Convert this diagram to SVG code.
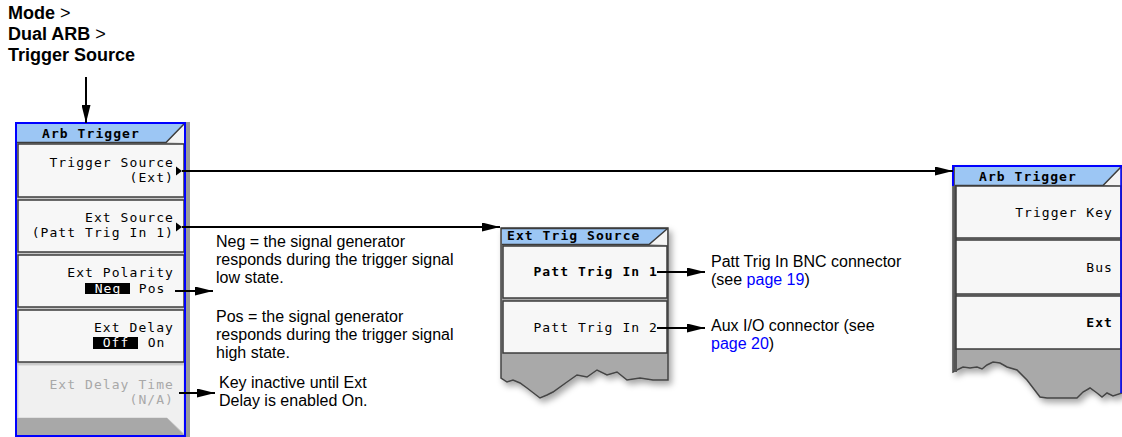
<svg xmlns="http://www.w3.org/2000/svg" width="1122" height="437" viewBox="0 0 1122 437">
<style>
.mono{font-family:"DejaVu Sans Mono","Liberation Mono",monospace;font-size:13px;letter-spacing:1.07px;fill:#000}
.b{font-weight:bold}
.dis{fill:#a8a8a8}
.inv{fill:#fff}
.ann{font-family:"Liberation Sans",Arial,sans-serif;font-size:16px;fill:#000}
.link{fill:#0000ff}
.crumb{font-family:"Liberation Sans",Arial,sans-serif;font-size:18px;font-weight:bold;fill:#000}
.conn{stroke:#000;stroke-width:2;fill:none}
.btn{fill:#f7f7f7;stroke:#3c3c3c;stroke-width:1.5}
.title{fill:#9cc6f4}
.light{fill:#f4f4f4}
.edge{stroke:#3c3c3c;stroke-width:1.5;fill:none}
.blue{stroke:#0000ff;stroke-width:2;fill:none}
.torn{fill:#a9a9a9;stroke:#444;stroke-width:1.5}
</style>
<defs>
<marker id="ah" viewBox="0 0 18 9" refX="18" refY="4.5" markerWidth="18" markerHeight="9" markerUnits="userSpaceOnUse" orient="auto"><path d="M0,0 L18,4.5 L0,9 Z" fill="#000"/></marker>
<filter id="sh" x="-10%" y="-10%" width="130%" height="130%"><feDropShadow dx="3" dy="4" stdDeviation="3" flood-color="#000" flood-opacity="0.35"/></filter>
</defs>

<g id="breadcrumb">
<text class="crumb" x="8" y="18.5">Mode<tspan font-weight="normal"> &gt;</tspan></text>
<text class="crumb" x="8" y="39.5">Dual ARB<tspan font-weight="normal"> &gt;</tspan></text>
<text class="crumb" x="8" y="61">Trigger Source</text>
</g>

<g id="left-panel">
<rect x="16" y="123" width="169" height="313" fill="#c8c8c8"/>
<rect x="186" y="122" width="4" height="315" fill="#9a9a9a"/>
<polygon class="light" points="166,142 184,124 184,143"/>
<polygon class="title" points="17,124 184,124 166,142 17,142"/>
<polyline class="edge" points="17,142.5 166,142.5 184,124"/>
<text class="mono b" x="42" y="138">Arb Trigger</text>
<rect class="btn" x="18" y="144" width="166" height="53"/>
<text class="mono" x="174" y="167" text-anchor="end">Trigger Source</text>
<text class="mono" x="174" y="182" text-anchor="end">(Ext)</text>
<rect class="btn" x="18" y="200" width="166" height="52"/>
<text class="mono" x="174" y="222" text-anchor="end">Ext Source</text>
<text class="mono" x="174" y="237" text-anchor="end">(Patt Trig In 1)</text>
<rect class="btn" x="18" y="255" width="166" height="52"/>
<text class="mono" x="174" y="277" text-anchor="end">Ext Polarity</text>
<rect x="85" y="283" width="45" height="11" fill="#000"/>
<text class="mono inv" x="108" y="293" text-anchor="middle">Neg</text>
<text class="mono" x="165.5" y="293" text-anchor="end">Pos</text>
<rect class="btn" x="18" y="310" width="166" height="52"/>
<text class="mono" x="174" y="332" text-anchor="end">Ext Delay</text>
<rect x="93" y="337" width="45" height="12" fill="#000"/>
<text class="mono inv" x="116" y="347" text-anchor="middle">Off</text>
<text class="mono" x="165.5" y="347" text-anchor="end">On</text>
<polygon points="18,365 184,365 184,434 167,418 18,418" fill="#f0f0f0" stroke="#d0d0d0" stroke-width="1"/>
<polygon points="17,418 167,418 184,435 17,435" fill="#a8a8a8"/>
<text class="mono dis" x="174" y="389" text-anchor="end">Ext Delay Time</text>
<text class="mono dis" x="174" y="404" text-anchor="end">(N/A)</text>
<rect class="blue" x="16" y="123" width="169" height="313"/>
</g>

<g id="ext-trig-source-panel">
<path class="torn" filter="url(#sh)" d="M501,228 H668 V380 L653,380 L640,378 L627,380 L617,372 L607,375 L597,370 L587,377 L577,375 L567,382 L553,392 L547,395 L540,398 L527,388 L520,383 L513,380 L507,382 L501,378 Z"/>
<polygon class="light" points="649,244 667,229 667,245"/>
<polygon class="title" points="502,229 667,229 649,244 502,244"/>
<polyline class="edge" points="502,244.5 649,244.5 667,229"/>
<line x1="501" y1="228.5" x2="668" y2="228.5" stroke="#3c3c3c" stroke-width="1.5"/>
<text class="mono b" x="507" y="240">Ext Trig Source</text>
<rect class="btn" x="503" y="246" width="164" height="52"/>
<text class="mono b" x="658" y="276" text-anchor="end">Patt Trig In 1</text>
<rect class="btn" x="503" y="301" width="164" height="52"/>
<text class="mono" x="658" y="332" text-anchor="end">Patt Trig In 2</text>
</g>

<g id="arb-trigger-panel-right">
<path class="torn" filter="url(#sh)" d="M953,166 H1122 V393 L1113,396 L1107,393 L1102,397 L1097,393 L1090,388 L1083,392 L1077,398 L1047,398 L1040,397 L1027,380 L1017,370 L1007,367 L1000,363 L993,362 L987,365 L982,369 L977,367 L970,368 L963,367 L957,370 L953,372 Z"/>
<rect x="954" y="167" width="3" height="205" fill="#555"/>
<polygon class="light" points="1103,185 1120,168 1121,168 1121,186"/>
<polygon class="title" points="955,167 1120,167 1103,185 955,185"/>
<polyline class="edge" points="955,185.5 1103,185.5 1121,167"/>
<text class="mono b" x="979" y="181">Arb Trigger</text>
<rect class="btn" x="956" y="186" width="165" height="52"/>
<text class="mono" x="1113" y="217" text-anchor="end">Trigger Key</text>
<rect class="btn" x="956" y="240" width="165" height="54"/>
<text class="mono" x="1113" y="272" text-anchor="end">Bus</text>
<rect class="btn" x="956" y="296" width="165" height="53"/>
<text class="mono b" x="1113" y="327" text-anchor="end">Ext</text>
<polyline class="blue" points="953,186 953,166 1123,166"/>
<line x1="1121" y1="166" x2="1121" y2="393" stroke="#0000ff" stroke-width="1.5"/>
</g>

<g id="annotations">
<text class="ann" x="216" y="247">Neg = the signal generator</text>
<text class="ann" x="216" y="265">responds during the trigger signal</text>
<text class="ann" x="216" y="283">low state.</text>
<text class="ann" x="216" y="322">Pos = the signal generator</text>
<text class="ann" x="216" y="340">responds during the trigger signal</text>
<text class="ann" x="216" y="358">high state.</text>
<text class="ann" x="219" y="388">Key inactive until Ext</text>
<text class="ann" x="219" y="406">Delay is enabled On.</text>
<text class="ann" x="711" y="267">Patt Trig In BNC connector</text>
<text class="ann" x="711" y="285">(see <tspan class="link">page 19</tspan>)</text>
<text class="ann" x="711" y="331">Aux I/O connector (see</text>
<text class="ann" x="711" y="349"><tspan class="link">page 20</tspan>)</text>
</g>

<g id="connectors">
<line class="conn" x1="86" y1="77" x2="86" y2="123" marker-end="url(#ah)"/>
<polygon points="176,166.5 182,171 176,175.5" fill="#000"/>
<line class="conn" x1="182" y1="171" x2="953" y2="171" marker-end="url(#ah)"/>
<polygon points="176,222.5 182,227 176,231.5" fill="#000"/>
<line class="conn" x1="182" y1="227" x2="500" y2="227" marker-end="url(#ah)"/>
<line class="conn" x1="175" y1="291" x2="213" y2="291" marker-end="url(#ah)"/>
<line class="conn" x1="179" y1="393" x2="215" y2="393" marker-end="url(#ah)"/>
<line class="conn" x1="657" y1="272" x2="705" y2="272" marker-end="url(#ah)"/>
<line class="conn" x1="657" y1="328" x2="705" y2="328" marker-end="url(#ah)"/>
</g>
</svg>
